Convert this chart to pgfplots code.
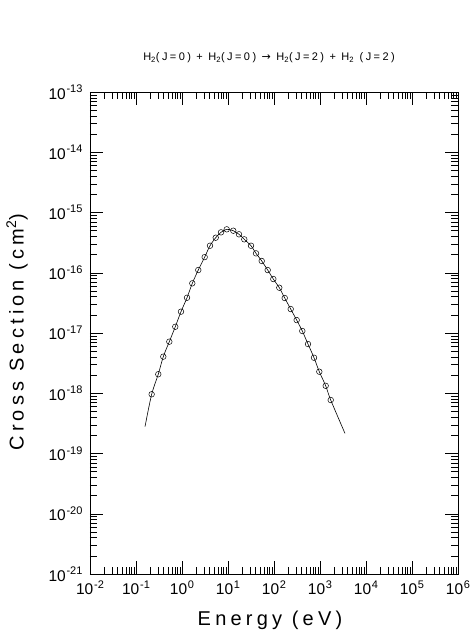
\documentclass[border=0pt]{standalone}
\usepackage{fontspec}
\setmainfont{Liberation Sans}
\newfontfamily\arrowfont{DejaVu Sans}
\usepackage{pgfplots}
\pgfplotsset{compat=1.18}
\newcommand\tp[1]{10\kern0.8pt\raisebox{0.42em}{\fontsize{11}{12}\selectfont #1}}
\begin{document}
\begin{tikzpicture}
\path[use as bounding box] (-90pt,-60pt) rectangle (380pt,574pt);
\begin{loglogaxis}[
  scale only axis, width=368pt, height=482pt,
  xmin=1e-2, xmax=1e6, ymin=1e-21, ymax=1e-13,
  tick align=inside, major tick length=13pt, minor tick length=7pt,
  axis line style={line width=0.7pt},
  every tick/.style={black, line width=0.5pt},
  xtick={1e-2,1e-1,1,10,100,1e3,1e4,1e5,1e6},
  xticklabels={\tp{-2},\tp{-1},\tp{0},\tp{1},\tp{2},\tp{3},\tp{4},\tp{5},\tp{6}},
  ytick={1e-21,1e-20,1e-19,1e-18,1e-17,1e-16,1e-15,1e-14,1e-13},
  yticklabels={\tp{-21},\tp{-20},\tp{-19},\tp{-18},\tp{-17},\tp{-16},\tp{-15},\tp{-14},\tp{-13}},
  minor xtick={2e-2,3e-2,4e-2,5e-2,6e-2,7e-2,8e-2,9e-2,
    2e-1,3e-1,4e-1,5e-1,6e-1,7e-1,8e-1,9e-1,
    2,3,4,5,6,7,8,9,20,30,40,50,60,70,80,90,
    200,300,400,500,600,700,800,900,
    2e3,3e3,4e3,5e3,6e3,7e3,8e3,9e3,
    2e4,3e4,4e4,5e4,6e4,7e4,8e4,9e4,
    2e5,3e5,4e5,5e5,6e5,7e5,8e5,9e5},
  minor ytick={2e-21,3e-21,4e-21,5e-21,6e-21,7e-21,8e-21,9e-21,
    2e-20,3e-20,4e-20,5e-20,6e-20,7e-20,8e-20,9e-20,
    2e-19,3e-19,4e-19,5e-19,6e-19,7e-19,8e-19,9e-19,
    2e-18,3e-18,4e-18,5e-18,6e-18,7e-18,8e-18,9e-18,
    2e-17,3e-17,4e-17,5e-17,6e-17,7e-17,8e-17,9e-17,
    2e-16,3e-16,4e-16,5e-16,6e-16,7e-16,8e-16,9e-16,
    2e-15,3e-15,4e-15,5e-15,6e-15,7e-15,8e-15,9e-15,
    2e-14,3e-14,4e-14,5e-14,6e-14,7e-14,8e-14,9e-14},
  ticklabel style={font=\fontsize{15.5}{18}\selectfont},
  yticklabel style={xshift=-4pt},
  xticklabel style={yshift=-3pt},
]
\addplot[black, line width=0.6pt, smooth, tension=0.5] coordinates {
(0.157,2.79e-19) (0.219,9.62e-19) (0.305,2.07e-18) (0.392,4.05e-18)
(0.530,7.18e-18) (0.714,1.27e-17) (0.951,2.26e-17) (1.285,3.85e-17)
(1.675,6.68e-17) (2.259,1.11e-16) (3.112,1.82e-16) (4.064,2.81e-16)
(5.408,3.82e-16) (7.047,4.69e-16) (9.376,5.26e-16) (13.03,4.99e-16)
(17.34,4.35e-16) (22.59,3.59e-16) (31.62,2.81e-16) (40.64,2.10e-16)
(54.08,1.57e-16) (72.95,1.11e-16) (96.6,7.87e-17) (130.3,5.65e-17)
(171.0,3.81e-17) (230.7,2.50e-17) (311.2,1.64e-17) (412.1,1.08e-17)
(548.3,6.56e-18) (741.3,3.89e-18) (966.1,2.28e-18) (1330,1.33e-18)
(1710,7.73e-19) (3491,2.16e-19)
};
\addplot[only marks, mark=o, mark size=2.8pt, mark options={black, line width=0.5pt}] coordinates {
(0.219,9.62e-19) (0.305,2.07e-18) (0.392,4.05e-18)
(0.530,7.18e-18) (0.714,1.27e-17) (0.951,2.26e-17) (1.285,3.85e-17)
(1.675,6.68e-17) (2.259,1.11e-16) (3.112,1.82e-16) (4.064,2.81e-16)
(5.408,3.82e-16) (7.047,4.69e-16) (9.376,5.26e-16) (13.03,4.99e-16)
(17.34,4.35e-16) (22.59,3.59e-16) (31.62,2.81e-16) (40.64,2.10e-16)
(54.08,1.57e-16) (72.95,1.11e-16) (96.6,7.87e-17) (130.3,5.65e-17)
(171.0,3.81e-17) (230.7,2.50e-17) (311.2,1.64e-17) (412.1,1.08e-17)
(548.3,6.56e-18) (741.3,3.89e-18) (966.1,2.28e-18) (1330,1.33e-18)
(1710,7.73e-19)
};
\end{loglogaxis}
\node[font=\fontsize{11}{13}\selectfont\addfontfeatures{LetterSpace=22}] at (179pt,516pt)
  {H\textsubscript{2}(J=0) + H\textsubscript{2}(J=0) {\arrowfont\fontsize{11}{13}\selectfont →} H\textsubscript{2}(J=2) + H\textsubscript{2} (J=2)};
\node[font=\fontsize{20}{24}\selectfont\addfontfeatures{LetterSpace=21}] at (180pt,-46pt) {Energy (eV)};
\node[font=\fontsize{20}{24}\selectfont\addfontfeatures{LetterSpace=21}, rotate=90] at (-73pt,242pt) {Cross Section (cm\textsuperscript{2})};
\end{tikzpicture}
\end{document}
